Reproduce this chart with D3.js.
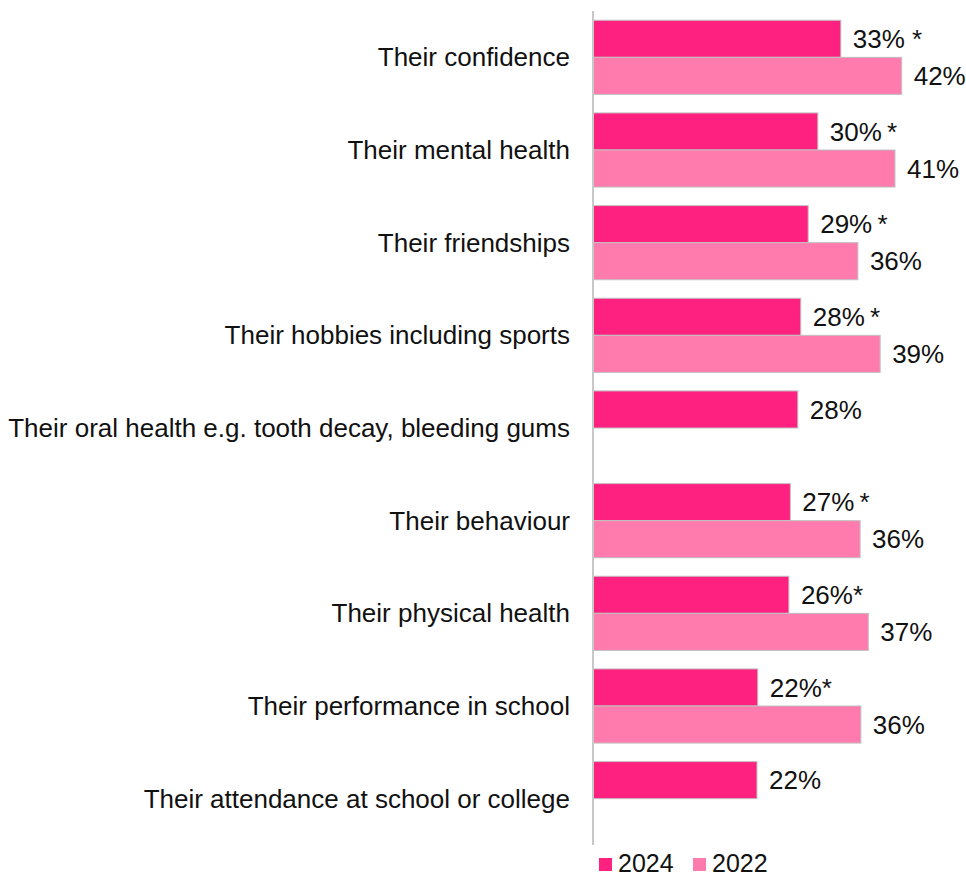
<!DOCTYPE html>
<html>
<head>
<meta charset="utf-8">
<script src="https://cdn.jsdelivr.net/npm/d3@7"></script>
<style>
  body { margin: 0; background: #fff; }
  svg { font-family: "Liberation Sans", Arial, sans-serif; }
</style>
</head>
<body>
<svg id="chart"></svg>
<script>
// categories, top to bottom
const categories = [
    'Their confidence',
    'Their mental health',
    'Their friendships',
    'Their hobbies including sports',
    'Their oral health e.g. tooth decay, bleeding gums',
    'Their behaviour',
    'Their physical health',
    'Their performance in school',
    'Their attendance at school or college'
];
const values2024 = [33.4, 30.3, 29.0, 28.0, 27.6, 26.6, 26.4, 22.2, 22.1];
const values2022 = [41.6, 40.7, 35.7, 38.7, null, 36.0, 37.1, 36.1, null];
const labels2024 = ['33% *', '30%\u2009*', '29%\u2009*', '28%\u2009*', '28%', '27%\u2009*', '26%*', '22%*', '22%'];
const labels2022 = ['42%', '41%', '36%', '39%', '', '36%', '37%', '36%', ''];
const seriesNames = ['2024', '2022'];
const colors = ['#ff217f', '#ff7bad'];

const width = 966;
const height = 878;
const fontSize = '26px';

const svg = d3.select('#chart')
    .attr('width', width)
    .attr('height', height);

const x = d3.scaleLinear()
    .domain([0, 45])
    .range([593, 593 + 45 * 7.42]);

const y = d3.scaleBand()
    .domain(categories)
    .range([11, 845])
    .paddingInner(0.2)
    .paddingOuter(0.1);

const ySub = d3.scaleBand()
    .domain(seriesNames)
    .range([0, y.bandwidth()]);

const rows = categories.map((c, i) => ({
    cat: c,
    bars: [
        { s: '2024', v: values2024[i], label: labels2024[i] },
        { s: '2022', v: values2022[i], label: labels2022[i] }
    ].filter(b => b.v != null)
}));

const groups = svg.selectAll('g.row')
    .data(rows)
    .enter()
    .append('g')
    .attr('class', 'row')
    .attr('transform', d => `translate(0,${y(d.cat)})`);

groups.selectAll('rect')
    .data(d => d.bars)
    .enter()
    .append('rect')
    .attr('x', x(0))
    .attr('y', d => ySub(d.s))
    .attr('width', d => x(d.v) - x(0))
    .attr('height', ySub.bandwidth())
    .style('fill', d => d.s === '2024' ? colors[0] : colors[1])
    .style('stroke', '#c0c0c0')
    .style('stroke-width', 1);

groups.selectAll('text.val')
    .data(d => d.bars)
    .enter()
    .append('text')
    .attr('class', 'val')
    .attr('x', d => x(d.v) + 12)
    .attr('y', d => ySub(d.s) + ySub.bandwidth() / 2)
    .attr('dy', '0.35em')
    .style('font-size', fontSize)
    .style('fill', '#111')
    .style('white-space', 'pre')
    .text(d => d.label);

// category labels
svg.selectAll('text.cat')
    .data(categories)
    .enter()
    .append('text')
    .attr('class', 'cat')
    .attr('x', 570)
    .attr('y', d => y(d) + y.bandwidth() / 2)
    .attr('dy', '0.35em')
    .attr('text-anchor', 'end')
    .style('font-size', fontSize)
    .style('fill', '#111')
    .text(d => d);

// vertical axis line
svg.append('line')
    .attr('x1', x(0)).attr('x2', x(0))
    .attr('y1', 11).attr('y2', 845)
    .style('stroke', '#c8c8c8')
    .style('stroke-width', 2);

// legend
const legend = svg.selectAll('g.legend')
    .data(seriesNames)
    .enter()
    .append('g')
    .attr('class', 'legend')
    .attr('transform', (d, i) => `translate(${599 + i * 94},858)`);

legend.append('rect')
    .attr('width', 13)
    .attr('height', 13)
    .style('fill', (d, i) => colors[i]);

legend.append('text')
    .attr('x', 19)
    .attr('y', 5.5)
    .attr('dy', '0.35em')
    .style('font-size', '25px')
    .style('fill', '#111')
    .text(d => d);
</script>
</body>
</html>
